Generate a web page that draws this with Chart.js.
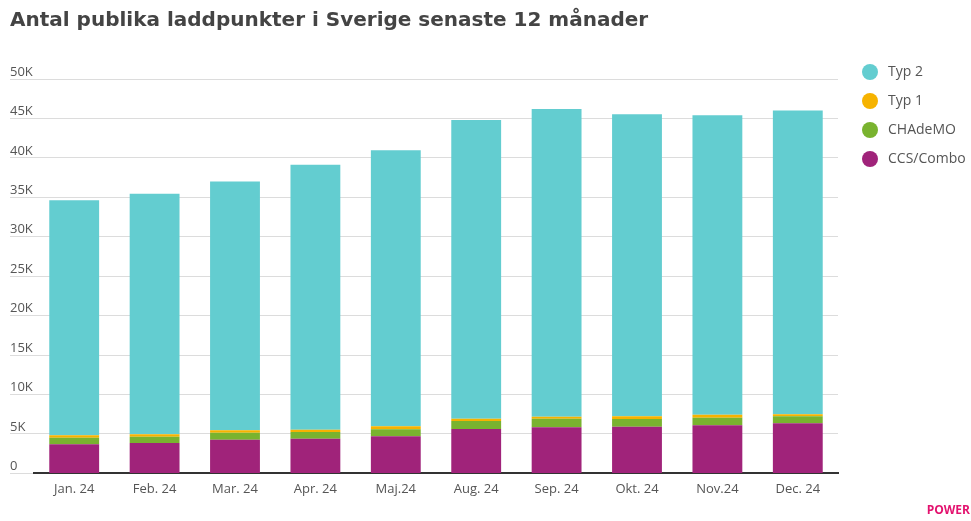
<!doctype html>
<html lang="sv">
  <head>
    <meta charset="UTF-8" />
    <title>Antal publika laddpunkter</title>
    <script src="https://cdn.jsdelivr.net/npm/chart.js"></script>
    <style>
      html, body { margin: 0; padding: 0; background: #fff; }
      #wrap { width: 971px; height: 521px; position: relative; }
    </style>
  </head>
  <body>
    <div id="wrap"><canvas id="laddChart"></canvas></div>
    <script>
      // data
      var months = ["Jan. 24", "Feb. 24", "Mar. 24", "Apr. 24", "Maj.24", "Aug. 24", "Sep. 24", "Okt. 24", "Nov.24", "Dec. 24"];
      var ccsCombo = [3690, 3850, 4270, 4400, 4700, 5630, 5850, 5920, 6100, 6360];
      var chademo = [840, 800, 890, 850, 890, 1020, 1090, 980, 970, 880];
      var typ1 = [300, 310, 310, 290, 380, 290, 250, 340, 380, 260];
      var typ2 = [29800, 30500, 31550, 33600, 35000, 37850, 39000, 38300, 37950, 38500];
      var yTicks = [0, 5000, 10000, 15000, 20000, 25000, 30000, 35000, 40000, 45000, 50000];

      var textColor = "#555";

      // legend on the right, drawn from the datasets
      var sideLegend = {
        id: "sideLegend",
        afterDraw: function (chart) {
          var c = chart.ctx;
          var sets = chart.data.datasets.slice().reverse();
          c.save();
          c.font = "14px 'Open Sans', sans-serif";
          c.textBaseline = "middle";
          sets.forEach(function (ds, i) {
            var y = 72 + i * 29;
            c.fillStyle = ds.backgroundColor;
            c.beginPath();
            c.arc(870, y, 8, 0, Math.PI * 2);
            c.fill();
            c.fillStyle = textColor;
            c.fillText(ds.label, 888, y);
          });
          // small logo text bottom right
          c.font = "bold 12px 'Open Sans', sans-serif";
          c.fillStyle = "#e3136f";
          c.textAlign = "right";
          c.fillText("POWER", 970, 511);
          c.restore();
        },
      };

      var ctx = document.getElementById("laddChart").getContext("2d");
      var laddChart = new Chart(ctx, {
        type: "bar",
        data: {
          labels: months,
          datasets: [
            { label: "CCS/Combo", data: ccsCombo, backgroundColor: "#a0237a" },
            { label: "CHAdeMO", data: chademo, backgroundColor: "#79b32f" },
            { label: "Typ 1", data: typ1, backgroundColor: "#f6b300" },
            { label: "Typ 2", data: typ2, backgroundColor: "#63cdd0" },
          ],
        },
        options: {
          responsive: true,
          maintainAspectRatio: false,
          animation: false,
          layout: { padding: { left: 10, right: 133, bottom: 24, top: 0 } },
          datasets: { bar: { barPercentage: 0.62, categoryPercentage: 1 } },
          plugins: {
            legend: { display: false },
            tooltip: { enabled: false },
            title: {
              display: true,
              align: "start",
              text: "Antal publika laddpunkter i Sverige senaste 12 månader",
              color: "#444",
              font: { family: "'DejaVu Sans', sans-serif", size: 20, weight: "bold" },
              padding: { top: 9, bottom: 46 },
            },
          },
          scales: {
            x: {
              stacked: true,
              grid: { display: false },
              border: { display: true, color: "#333", width: 2 },
              ticks: {
                color: textColor,
                padding: 0,
                font: { family: "'Open Sans', sans-serif", size: 13 },
              },
            },
            y: {
              stacked: true,
              min: 0,
              max: 50000,
              afterFit: function (scale) {
                scale.width = 24;
              },
              afterBuildTicks: function (scale) {
                scale.ticks = yTicks.map(function (v) {
                  return { value: v };
                });
              },
              border: { display: false },
              grid: { color: "#dcdcdc", tickLength: 24, drawTicks: true },
              ticks: {
                color: textColor,
                crossAlign: "far",
                labelOffset: -7,
                font: { family: "'Open Sans', sans-serif", size: 13 },
                callback: function (v) {
                  return v === 0 ? "0" : v / 1000 + "K";
                },
              },
            },
          },
        },
        plugins: [sideLegend],
      });
    </script>
  </body>
</html>
